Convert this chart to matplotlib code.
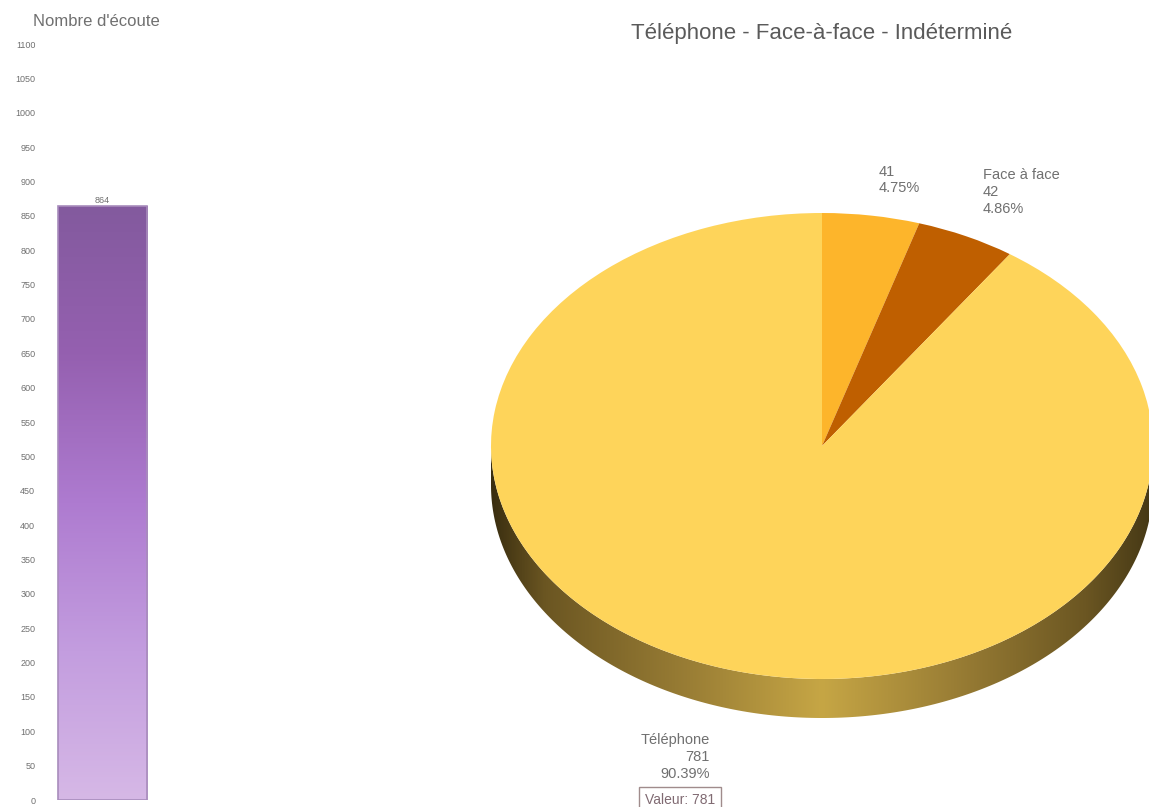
"""Volume d'écoute: total bar next to a tilted pie of the contact channels."""

import numpy as np
import matplotlib
matplotlib.use('Agg')
import matplotlib.pyplot as plt
from matplotlib.colors import LinearSegmentedColormap
from matplotlib.patches import Polygon

WIDTH, HEIGHT = 1149, 807

# Chart data
total_label = 'Nombre d\'écoute'
total_value = 864
axis_ticks = list(range(0, 1101, 50))

pie_title = 'Téléphone - Face-à-face - Indéterminé'
channel_names = ['', 'Face à face', 'Téléphone']
channel_values = [41, 42, 781]
channel_shares = ['4.75%', '4.86%', '90.39%']
channel_colors = ['#fdb52b', '#bf5f00', '#fed45a']
tooltip_text = 'Valeur: 781'

TEXT_GREY = '#707070'


def px_rect(left, top, right, bottom):
    """Axes rectangle from pixel edges, y counted from the top."""
    return [left / WIDTH, 1 - bottom / HEIGHT, (right - left) / WIDTH, (bottom - top) / HEIGHT]


plt.rcParams['font.family'] = ['Liberation Sans', 'DejaVu Sans']
fig = plt.figure(figsize=(WIDTH / 100, HEIGHT / 100), dpi=100, facecolor='white')

# Bar with vertical gradient
ax_bar = fig.add_axes(px_rect(45, 44, 160, 800))
bar_cmap = LinearSegmentedColormap.from_list(
    'bar', ['#d6b8e6', '#c39ddf', '#ae7bd0', '#9560b0', '#835a9e'])
bar = ax_bar.bar([0], [total_value], width=0.78, color='none',
                 edgecolor='#a88cbc', linewidth=1.2, zorder=3)[0]
gradient = np.linspace(0, 1, 256).reshape(-1, 1)
ax_bar.imshow(gradient, origin='lower', aspect='auto', cmap=bar_cmap, zorder=2,
              extent=[bar.get_x(), bar.get_x() + bar.get_width(), 0, total_value])
ax_bar.set_xlim(-0.5, 0.5)
ax_bar.set_ylim(0, 1100)
ax_bar.set_yticks(axis_ticks)
ax_bar.set_xticks([])
ax_bar.tick_params(axis='y', length=0, labelsize=6.5, labelcolor=TEXT_GREY, pad=7)
for side in ax_bar.spines.values():
    side.set_visible(False)
ax_bar.text(0, total_value + 2, str(total_value), ha='center', va='bottom',
            fontsize=6.5, color=TEXT_GREY)
fig.text(96 / WIDTH, 1 - 21 / HEIGHT, total_label, ha='center', va='center',
         fontsize=12, color=TEXT_GREY)

# Pie: unit circle stretched by its axes rectangle into an ellipse
cx, cy, rx, ry, depth = 822, 446, 331, 233, 39
ax_pie = fig.add_axes(px_rect(cx - rx, cy - ry, cx + rx, cy + ry + depth))
ax_pie.set_facecolor('none')
unit_depth = depth / ry
ax_pie.pie(channel_values, colors=channel_colors, startangle=90, counterclock=False,
           radius=1, wedgeprops={'linewidth': 0})
ax_pie.set_aspect('auto')

# Side wall under the front half of the rim
wall_cmap = LinearSegmentedColormap.from_list('wall', [
    (0.0, '#3a2e10'), (0.08, '#6b5622'), (0.3, '#9a7e35'), (0.5, '#c6a645'),
    (0.7, '#9a7e35'), (0.9, '#6b5622'), (1.0, '#453815')])
theta = np.linspace(np.pi, 2 * np.pi, 240)
rim_x, rim_y = np.cos(theta), np.sin(theta)
wall_outline = np.column_stack([np.r_[rim_x, rim_x[::-1]],
                                np.r_[rim_y, rim_y[::-1] - unit_depth]])
wall = ax_pie.imshow(np.linspace(0, 1, 256).reshape(1, -1), cmap=wall_cmap, aspect='auto',
                     extent=[-1, 1, -1 - unit_depth, 0], zorder=0)
wall.set_clip_path(Polygon(wall_outline, transform=ax_pie.transData))
ax_pie.set_xlim(-1, 1)
ax_pie.set_ylim(-1 - unit_depth, 1)
ax_pie.axis('off')

fig.text(822 / WIDTH, 1 - 33 / HEIGHT, pie_title, ha='center', va='center',
         fontsize=16, color='#5a5a5a')

# Slice labels
label_style = {'fontsize': 10.5, 'color': TEXT_GREY, 'linespacing': 1.27}
fig.text(879 / WIDTH, 1 - 180 / HEIGHT,
         f'{channel_values[0]}\n{channel_shares[0]}', ha='left', va='center', **label_style)
fig.text(983 / WIDTH, 1 - 192 / HEIGHT,
         f'{channel_names[1]}\n{channel_values[1]}\n{channel_shares[1]}',
         ha='left', va='center', **label_style)
fig.text(710 / WIDTH, 1 - 757 / HEIGHT,
         f'{channel_names[2]}\n{channel_values[2]}\n{channel_shares[2]}',
         ha='right', va='center', multialignment='right', **label_style)

# Tooltip box, cut by the lower edge of the figure
fig.text(680 / WIDTH, 1 - 800 / HEIGHT, tooltip_text, ha='center', va='center',
         fontsize=10, color='#806a72',
         bbox={'boxstyle': 'square,pad=0.45', 'facecolor': 'white',
               'edgecolor': '#a08c8c', 'linewidth': 1})

fig.savefig('out.png', dpi=100)
